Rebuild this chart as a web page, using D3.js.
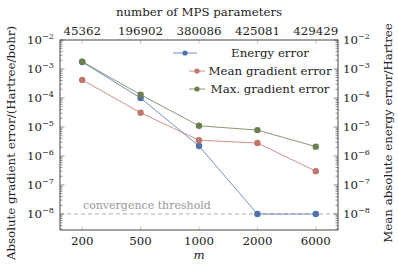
<!DOCTYPE html>
<html>
<head>
<meta charset="utf-8">
<script src="https://cdn.jsdelivr.net/npm/d3@7"></script>
<style>
  body { margin: 0; background: #fff; }
  svg { display: block; }
</style>
</head>
<body>
<svg id="chart"></svg>
<script>
// data
const ms = ["200", "500", "1000", "2000", "6000"];
const mpsParams = ["45362", "196902", "380086", "425081", "429429"];
const energyError = [1.75e-3, 1.0e-4, 2.2e-6, 1e-8, 1e-8];
const meanGradError = [4.2e-4, 3.1e-5, 3.5e-6, 2.8e-6, 3.0e-7];
const maxGradError = [1.8e-3, 1.3e-4, 1.1e-5, 7.8e-6, 2.1e-6];
const threshold = 1e-8;
const decades = [-8, -7, -6, -5, -4, -3, -2];

const series = [
  { name: "Energy error", values: energyError, color: "#4e72b0" },
  { name: "Mean gradient error", values: meanGradError, color: "#c0766d" },
  { name: "Max. gradient error", values: maxGradError, color: "#6a7f4f" }
];

const W = 398, H = 264;
const box = { left: 60, right: 338, top: 40, bottom: 230 };
const FONT = "'DejaVu Serif', 'Liberation Serif', serif";
const FS = 11.8;

const svg = d3.select("#chart").attr("width", W).attr("height", H)
  .attr("font-family", FONT)
  .style("font-family", FONT);

const x = d3.scalePoint()
  .domain(ms)
  .range([box.left, box.right])
  .padding(0.38);

const y = d3.scaleLog()
  .domain([2.8e-9, 1e-2])
  .range([box.bottom, box.top]);

function txt(sel) {
  return sel.append("text")
    .attr("font-family", FONT)
    .attr("font-size", FS)
    .attr("fill", "#222");
}

// threshold line + label
svg.append("line")
  .attr("x1", box.left).attr("x2", box.right)
  .attr("y1", y(threshold)).attr("y2", y(threshold))
  .attr("stroke", "#999").attr("stroke-width", 0.8)
  .attr("stroke-dasharray", "4,3");

txt(svg)
  .attr("x", 83).attr("y", y(threshold) - 5)
  .attr("font-size", 11)
  .attr("fill", "#999")
  .text("convergence threshold");

// minor/major log ticks on left and right (inside)
const minorVals = [];
for (let e = -9; e <= -3; e++) {
  for (let k = 2; k <= 9; k++) {
    const v = k * Math.pow(10, e);
    if (v >= 2.8e-9 && v <= 1e-2) minorVals.push(v);
  }
}
const tickG = svg.append("g").attr("stroke", "#555").attr("stroke-width", 0.6);
[box.left, box.right].forEach(x0 => {
  const dir = x0 === box.left ? 1 : -1;
  tickG.selectAll(null).data(minorVals).enter().append("line")
    .attr("x1", x0).attr("x2", x0 + dir * 2.5)
    .attr("y1", d => y(d)).attr("y2", d => y(d));
  tickG.selectAll(null).data(decades).enter().append("line")
    .attr("x1", x0).attr("x2", x0 + dir * 4.5)
    .attr("y1", d => y(Math.pow(10, d))).attr("y2", d => y(Math.pow(10, d)));
});

// category ticks top/bottom
const catG = svg.append("g").attr("stroke", "#aaa").attr("stroke-width", 0.6);
catG.selectAll(null).data(ms).enter().append("line")
  .attr("x1", d => x(d)).attr("x2", d => x(d))
  .attr("y1", box.bottom).attr("y2", box.bottom - 4);
catG.selectAll(null).data(ms).enter().append("line")
  .attr("x1", d => x(d)).attr("x2", d => x(d))
  .attr("y1", box.top).attr("y2", box.top + 4);

// frame
svg.append("rect")
  .attr("x", box.left).attr("y", box.top)
  .attr("width", box.right - box.left).attr("height", box.bottom - box.top)
  .attr("fill", "none").attr("stroke", "#333").attr("stroke-width", 0.9);

// y tick labels, both sides
function powLabel(sel, d) {
  sel.append("tspan").text("10");
  sel.append("tspan").attr("dy", -5).attr("font-size", 8).text("\u2212" + Math.abs(d));
}
decades.forEach(d => {
  const yy = y(Math.pow(10, d)) + 4;
  powLabel(txt(svg).attr("x", 27).attr("y", yy), d);
  powLabel(txt(svg).attr("x", 343).attr("y", yy), d);
});

// bottom tick labels
svg.selectAll(null).data(ms).enter().append("text")
  .attr("font-family", FONT).attr("font-size", FS).attr("fill", "#222")
  .attr("x", d => x(d)).attr("y", 245)
  .attr("text-anchor", "middle")
  .text(d => d);

// top tick labels
svg.selectAll(null).data(mpsParams).enter().append("text")
  .attr("font-family", FONT).attr("font-size", FS).attr("fill", "#222")
  .attr("x", (d, i) => x(ms[i])).attr("y", 35)
  .attr("text-anchor", "middle")
  .text(d => d);

// titles
txt(svg)
  .attr("x", 199).attr("y", 16)
  .attr("text-anchor", "middle")
  .text("number of MPS parameters");

txt(svg)
  .attr("x", 199).attr("y", 259)
  .attr("text-anchor", "middle")
  .attr("font-style", "italic")
  .text("m");

txt(svg)
  .attr("transform", `translate(15,${(box.top + box.bottom) / 2 + 8}) rotate(-90)`)
  .attr("text-anchor", "middle")
  .text("Absolute gradient error/(Hartree/bohr)");

txt(svg)
  .attr("transform", `translate(392,${(box.top + box.bottom) / 2 - 2}) rotate(-90)`)
  .attr("text-anchor", "middle")
  .text("Mean absolute energy error/Hartree");

// lines + markers
const line = d3.line()
  .x((d, i) => x(ms[i]))
  .y(d => y(d));

series.forEach(s => {
  svg.append("path")
    .datum(s.values)
    .attr("d", line)
    .attr("fill", "none")
    .attr("stroke", s.color)
    .attr("stroke-width", 0.8);
  svg.selectAll(null).data(s.values).enter().append("circle")
    .attr("cx", (d, i) => x(ms[i]))
    .attr("cy", d => y(d))
    .attr("r", 3.2)
    .attr("fill", s.color);
});

// legend
const legendRows = [53, 71, 89];
series.forEach((s, i) => {
  const g = svg.append("g");
  const x1 = i === 0 ? 173 : 189;
  const x2 = i === 0 ? 197 : 205;
  g.append("line")
    .attr("x1", x1).attr("x2", x2)
    .attr("y1", legendRows[i]).attr("y2", legendRows[i])
    .attr("stroke", s.color).attr("stroke-width", 0.8);
  g.append("circle")
    .attr("cx", (x1 + x2) / 2).attr("cy", legendRows[i])
    .attr("r", 2.6).attr("fill", s.color);
  txt(g)
    .attr("x", 270).attr("y", legendRows[i] + 4)
    .attr("text-anchor", "middle")
    .text(s.name);
});
</script>
</body>
</html>
